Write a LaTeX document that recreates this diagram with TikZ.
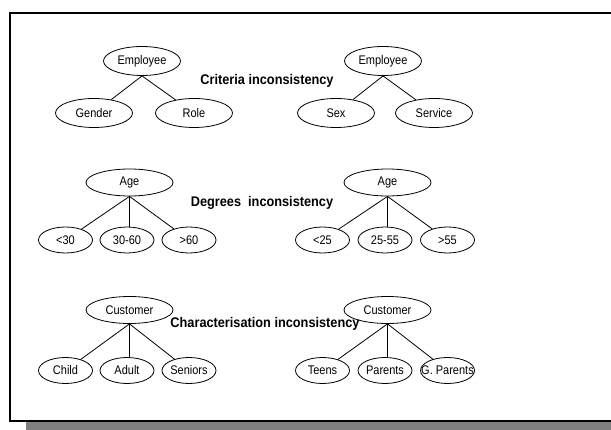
\documentclass[tikz,border=0pt]{standalone}
\usepackage{fontspec}
\setmainfont{Liberation Sans}
\newfontfamily\attrfont[FakeStretch=0.88]{Liberation Sans}
\newfontfamily\notefont[FakeStretch=0.91]{Liberation Sans}
\usepackage{tikz}
\usepackage{xcolor}
\usetikzlibrary{shapes.geometric}
\definecolor{shadow-grey}{RGB}{128,128,128}
\newcommand{\fixw}[1]{\makebox[0pt]{#1}}
\tikzset{
    attr-node/.style = {draw=black, fill=white, line width=0.8pt, ellipse, inner sep=0pt, minimum width=77pt, minimum height=29pt, font=\attrfont\fontsize{12.5}{15}\selectfont},
    root-node/.style = {attr-node, minimum width=87pt, minimum height=27pt},
    leaf-node/.style = {attr-node, minimum width=54pt, minimum height=26pt},
    note-text/.style = {font=\notefont\fontsize{14}{16}\selectfont\bfseries},
    branch/.style = {draw=black, line width=0.8pt},
}

\begin{document}
\begin{tikzpicture}[x=1pt, y=-1pt]
\useasboundingbox (0,0) rectangle (611,430);
\clip (0,0) rectangle (611,430);
% frame with its shadow
\fill[shadow-grey] (26,422.5) rectangle (620,440);
\draw[line width=1.6pt] (10,13) rectangle (620,421);

% criteria
\node [attr-node] (emp-a) at (142,61) {\fixw{Employee}};
\node [attr-node] (gender) at (94,113) {\fixw{Gender}};
\node [attr-node] (role) at (194,113) {\fixw{Role}};
\node [attr-node] (emp-b) at (383,61) {\fixw{Employee}};
\node [attr-node] (sex) at (336,113) {\fixw{Sex}};
\node [attr-node] (service) at (434,113) {\fixw{Service}};
\node [note-text] (criteria) at (267,81) {Criteria inconsistency};
\draw [branch] (emp-a.south) -- (gender);
\draw [branch] (emp-a.south) -- (role);
\draw [branch] (emp-b.south) -- (sex);
\draw [branch] (emp-b.south) -- (service);

% degrees
\node [root-node] (age-a) at (129.5,182.5) {\fixw{Age}};
\node [leaf-node] (lt30) at (65.5,240) {\fixw{<30}};
\node [leaf-node] (mid30) at (127,240) {\fixw{30-60}};
\node [leaf-node] (gt60) at (189,240) {\fixw{>60}};
\node [root-node] (age-b) at (387.5,182.5) {\fixw{Age}};
\node [leaf-node] (lt25) at (322.5,240) {\fixw{<25}};
\node [leaf-node] (mid25) at (385,240) {\fixw{25-55}};
\node [leaf-node] (gt55) at (447.5,240) {\fixw{>55}};
\node [note-text] (degrees) at (262,203) {Degrees\ \ inconsistency};
\draw [branch] (age-a.south) -- (lt30);
\draw [branch] (age-a.south) -- (age-a.south |- mid30.north);
\draw [branch] (age-a.south) -- (gt60);
\draw [branch] (age-b.south) -- (lt25);
\draw [branch] (age-b.south) -- (age-b.south |- mid25.north);
\draw [branch] (age-b.south) -- (gt55);

% characterisation
\node [root-node] (cust-a) at (129.5,310) {\fixw{Customer}};
\node [leaf-node] (child) at (65.5,370.5) {\fixw{Child}};
\node [leaf-node] (adult) at (127,370.5) {\fixw{Adult}};
\node [leaf-node] (seniors) at (189,370.5) {\fixw{Seniors}};
\node [root-node] (cust-b) at (387.5,310) {\fixw{Customer}};
\node [leaf-node] (teens) at (322.5,370.5) {\fixw{Teens}};
\node [leaf-node] (parents) at (385,370.5) {\fixw{Parents}};
\node [leaf-node] (gparents) at (447.5,370.5) {\fixw{G. Parents}};
\node [note-text] (charac) at (265,324) {Characterisation inconsistency};
\draw [branch] (cust-a.south) -- (child);
\draw [branch] (cust-a.south) -- (cust-a.south |- adult.north);
\draw [branch] (cust-a.south) -- (seniors);
\draw [branch] (cust-b.south) -- (teens);
\draw [branch] (cust-b.south) -- (cust-b.south |- parents.north);
\draw [branch] (cust-b.south) -- (gparents);
\end{tikzpicture}
\end{document}
